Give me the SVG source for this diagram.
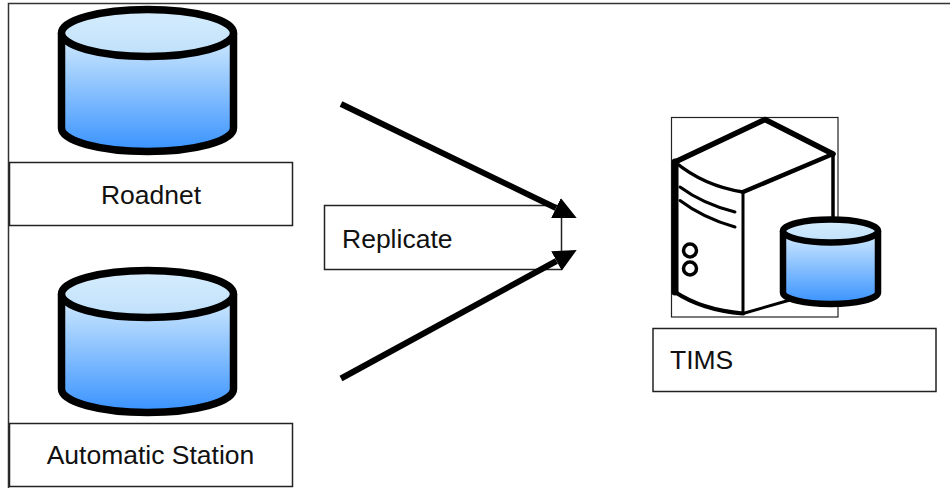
<svg xmlns="http://www.w3.org/2000/svg" width="950" height="488" viewBox="0 0 950 488">
<style>
.box{fill:#fff;stroke:#222;stroke-width:1.5}
.lbl{font-family:"Liberation Sans",Arial,sans-serif;font-size:26.5px;fill:#111}
.cyl{stroke:#000;stroke-linejoin:round}
.conn{stroke:#000;stroke-width:6;fill:none}
.srv{fill:none;stroke:#000;stroke-linecap:round;stroke-linejoin:round}
</style>
<defs>
<linearGradient id="body" x1="0" y1="0" x2="0" y2="1">
<stop offset="0" stop-color="#d4ecfd"/>
<stop offset="1" stop-color="#3892ff"/>
</linearGradient>
<linearGradient id="top" x1="0" y1="0" x2="0" y2="1">
<stop offset="0" stop-color="#d6edfd"/>
<stop offset="1" stop-color="#bfe0fb"/>
</linearGradient>
<marker id="ah" markerUnits="userSpaceOnUse" markerWidth="23" markerHeight="22" refX="0" refY="11" orient="auto">
<path d="M0,0 L23,11 L0,22 Z" fill="#000"/>
</marker>
</defs>
<rect width="950" height="488" fill="#fff"/>
<path d="M8.5,488 V3.5 H950" fill="none" stroke="#333" stroke-width="1.5"/>

<g id="roadnet">
<path class="cyl" d="M61.5,33 V128 A86,23.5 0 0 0 233.5,128 V33" fill="url(#body)" stroke-width="7.5"/>
<ellipse class="cyl" cx="147.5" cy="33" rx="86" ry="23.5" fill="url(#top)" stroke-width="7.5"/>
<rect class="box" x="9.5" y="162.5" width="283" height="63"/>
<text class="lbl" x="151" y="204" text-anchor="middle">Roadnet</text>
</g>

<g id="automatic-station">
<path class="cyl" d="M61.5,294 V389 A86,23.5 0 0 0 233.5,389 V294" fill="url(#body)" stroke-width="7.5"/>
<ellipse class="cyl" cx="147.5" cy="294" rx="86" ry="23.5" fill="url(#top)" stroke-width="7.5"/>
<rect class="box" x="9.5" y="423.5" width="283" height="63"/>
<text class="lbl" x="150.5" y="464" text-anchor="middle">Automatic Station</text>
</g>

<g id="replicate">
<rect class="box" x="324.5" y="205.5" width="237" height="64"/>
<text class="lbl" x="342" y="248">Replicate</text>
</g>

<g id="tims">
<rect x="671.5" y="117.5" width="166.5" height="199.5" fill="#fff" stroke="#222" stroke-width="1.2"/>
<path d="M675,162 L765,119.5 L833,154 L833,300 L743,313.5 Q705,308 675,292 Z" fill="#fff"/>
<path class="srv" d="M675,162 L765,119.5 L833,154" stroke-width="5.5"/>
<path class="srv" d="M675,162 V292" stroke-width="7"/>
<path class="srv" d="M675,162 Q704,186 743,192" stroke-width="3.5"/>
<path class="srv" d="M675,292 Q702,310 743,313.5" stroke-width="4"/>
<path class="srv" d="M743,192 L833,154" stroke-width="4.5"/>
<path class="srv" d="M743,192 V313.5" stroke-width="3"/>
<path class="srv" d="M833,154 V230" stroke-width="3.5"/>
<path class="srv" d="M743,313.5 L790,300" stroke-width="3"/>
<path class="srv" d="M680,187 Q703,204 735,212" stroke-width="3"/>
<path class="srv" d="M680,200.5 Q703,218 735,227" stroke-width="3"/>
<circle cx="690" cy="250.5" r="6.5" fill="#fff" stroke="#000" stroke-width="3.5"/>
<circle cx="690" cy="268.5" r="6.5" fill="#fff" stroke="#000" stroke-width="3.5"/>
<path class="cyl" d="M783,231 V292.5 A47.5,11.5 0 0 0 878,292.5 V231" fill="url(#body)" stroke-width="6.5"/>
<ellipse class="cyl" cx="830.5" cy="231" rx="47.5" ry="11.5" fill="url(#top)" stroke-width="6.5"/>
<rect class="box" x="653" y="328.5" width="283" height="63"/>
<text class="lbl" x="670" y="369">TIMS</text>
</g>

<g id="connectors">
<line class="conn" x1="341" y1="104" x2="556" y2="208" marker-end="url(#ah)"/>
<line class="conn" x1="341" y1="378.5" x2="556.5" y2="261" marker-end="url(#ah)"/>
</g>
</svg>
